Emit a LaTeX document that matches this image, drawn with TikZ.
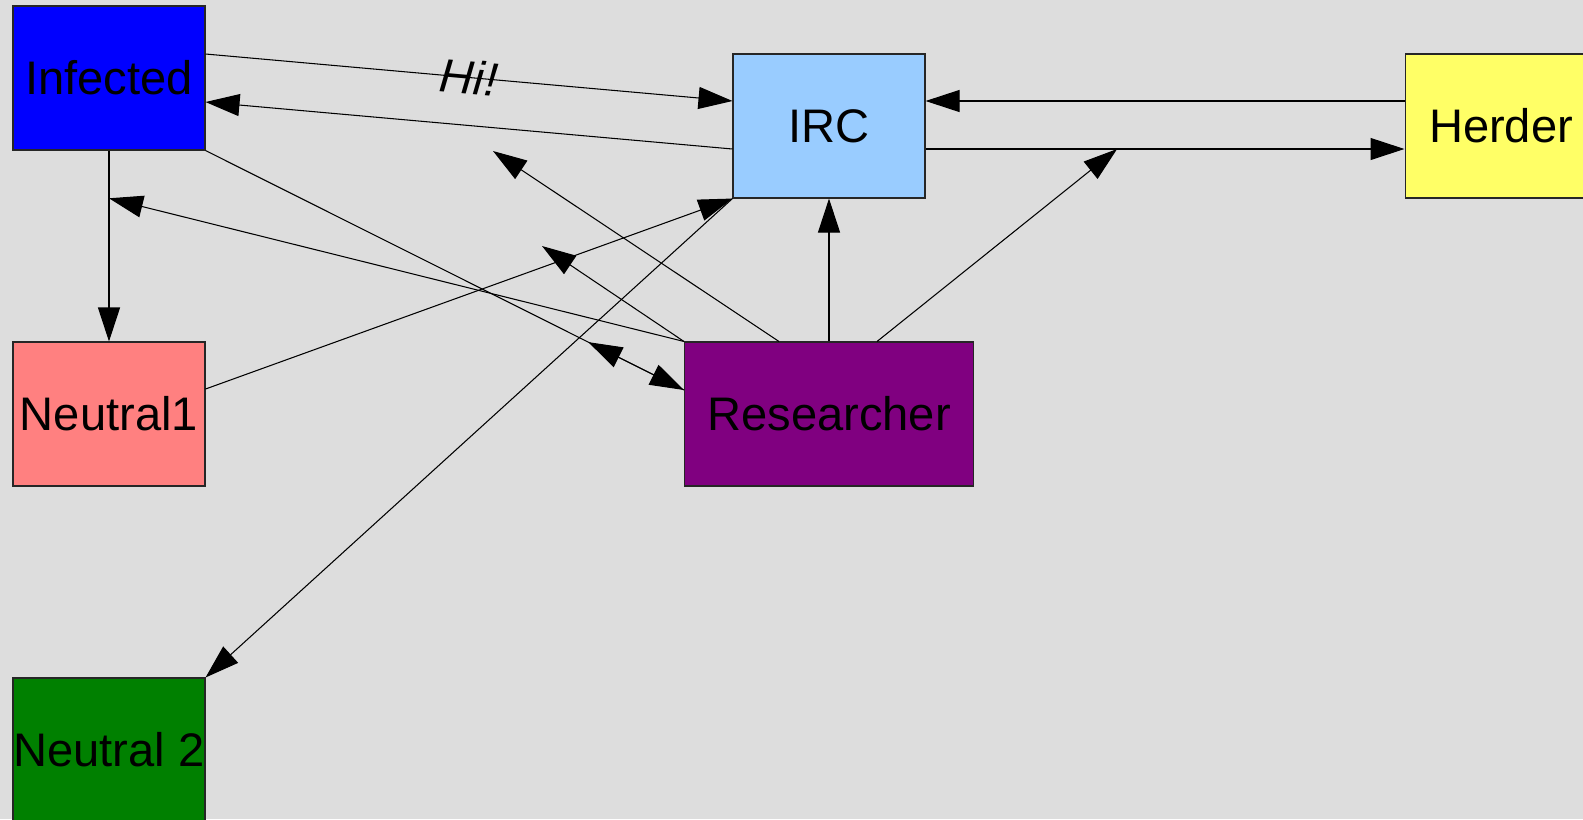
\documentclass[tikz,border=0pt]{standalone}
\usepackage{fontspec}
\setmainfont{Liberation Sans}
\usepackage{xcolor}
\usetikzlibrary{arrows.meta,positioning,calc}
\definecolor{bggray}{HTML}{DDDDDD}
\definecolor{infblue}{HTML}{0000FF}
\definecolor{ircblue}{HTML}{99CCFF}
\definecolor{herdyellow}{HTML}{FFFF66}
\definecolor{neutpink}{HTML}{FF8080}
\definecolor{respurple}{HTML}{800080}
\definecolor{neutgreen}{HTML}{008000}

\begin{document}
\begin{tikzpicture}[
    box/.style={rectangle, draw=black!85, line width=0.3pt, minimum width=1.92cm, minimum height=1.44cm, inner sep=0pt, align=center, font=\fontsize{13.4}{16}\selectfont},
    widebox/.style={box, minimum width=2.89cm},
    arr/.style={-{Triangle[length=0.34cm, width=0.22cm]}, line width=0.3pt},
    lbl/.style={font=\fontsize{13.4}{16}\selectfont\itshape},
]
% Background
\fill[bggray] (0,0) rectangle (15.83,-8.19);
\useasboundingbox (0,0) rectangle (15.83,-8.19);
% Nodes
\node[box, fill=infblue]      (infected)   at (1.09,-0.78)  {Infected};
\node[box, fill=ircblue]      (irc)        at (8.29,-1.26)  {IRC};
\node[box, fill=herdyellow]   (herder)     at (15.01,-1.26) {Herder};
\node[box, fill=neutpink]     (neutralone) at (1.09,-4.14)  {Neutral1};
\node[widebox, fill=respurple] (researcher) at (8.29,-4.14) {Researcher};
\node[box, fill=neutgreen]    (neutraltwo) at (1.09,-7.50)  {Neutral 2};
% Points on lines and free ends
\coordinate (resin)  at ([yshift=0.24cm]researcher.west);
\coordinate (ircout) at ([yshift=-0.23cm]irc.east);
\coordinate (herdin) at ([yshift=-0.23cm]herder.west);
\coordinate (tapA) at ($(infected.south)!0.25!(neutralone.north)$);
\coordinate (tapB) at ($(infected.south east)!0.8!(resin)$);
\coordinate (tapC) at (5.42,-2.46);
\coordinate (tapD) at ($(ircout)!0.4!(herdin)$);
\coordinate (tapE) at (4.93,-1.51);
% Connections
\draw[arr] ([yshift=0.24cm]infected.east) -- node[lbl, sloped]{Hi!} ([yshift=0.25cm]irc.west);
\draw[arr] ([yshift=-0.23cm]irc.west) -- ([yshift=-0.24cm]infected.east);
\draw[arr] ([yshift=0.25cm]herder.west) -- ([yshift=0.25cm]irc.east);
\draw[arr] (ircout) -- (herdin);
\draw[arr] (infected.south) -- (neutralone.north);
\draw[arr] (infected.south east) -- (resin);
\draw[arr] ([yshift=0.25cm]neutralone.east) -- (irc.south west);
\draw[arr] (irc.south west) -- (neutraltwo.north east);
% Researcher's arrows
\draw[arr] (researcher.north west) -- (tapA);
\draw[arr] (researcher.north west) -- (tapC);
\draw[arr] (resin) -- (tapB);
\draw[arr] ([xshift=-0.5cm]researcher.north) -- (tapE);
\draw[arr] (researcher.north) -- (irc.south);
\draw[arr] ([xshift=0.48cm]researcher.north) -- (tapD);
\end{tikzpicture}
\end{document}
